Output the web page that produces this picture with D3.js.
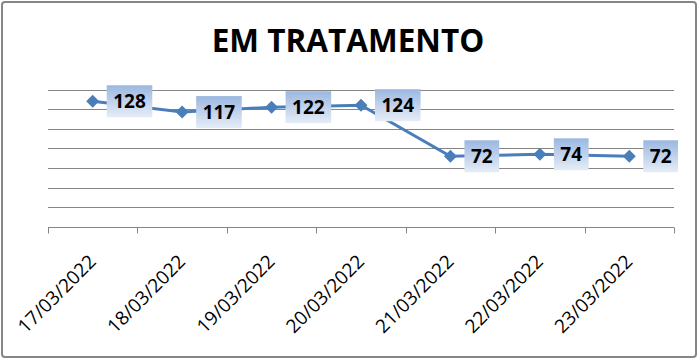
<!DOCTYPE html>
<style>
body { margin: 0; background: white; }
svg { display: block; }
text { font-family: "Open Sans", sans-serif; }
</style>
<svg width="699" height="361"></svg>
<script src="https://d3js.org/d3.v7.min.js"></script>
<script>

var dates = ["17/03/2022", "18/03/2022", "19/03/2022", "20/03/2022", "21/03/2022", "22/03/2022", "23/03/2022"];
var values = [128, 117, 122, 124, 72, 74, 72];
var yTicks = [0, 20, 40, 60, 80, 100, 120, 140];
var title = "EM TRATAMENTO";

var svg = d3.select("svg");

var plotLeft = 48, plotRight = 674, plotTop = 89.5, plotBottom = 227;

var x = d3.scaleBand().domain(dates).range([plotLeft, plotRight]);
var y = d3.scaleLinear().domain([0, 140]).range([plotBottom, plotTop]);

// gradient for labels
var defs = svg.append("defs");
var grad = defs.append("linearGradient").attr("id", "lbl")
  .attr("x1", 0).attr("y1", 0).attr("x2", 0).attr("y2", 1);
grad.append("stop").attr("offset", "0%").attr("stop-color", "#9bb7e0");
grad.append("stop").attr("offset", "100%").attr("stop-color", "#e6edf7");

// outer border
svg.append("rect")
  .attr("x", 2).attr("y", 2).attr("width", 694).attr("height", 355)
  .attr("rx", 3)
  .attr("fill", "white").attr("stroke", "#868686").attr("stroke-width", 2);

svg.append("text")
  .attr("x", 348).attr("y", 52)
  .attr("text-anchor", "middle")
  .style("font-size", "31.5px").style("font-weight", "bold")
  .text(title);

// gridlines
svg.append("g").selectAll("line")
  .data(yTicks.slice(1))
  .enter().append("line")
  .attr("x1", plotLeft).attr("x2", plotRight)
  .attr("y1", function(d) { return Math.round(y(d)) + 0.5; })
  .attr("y2", function(d) { return Math.round(y(d)) + 0.5; })
  .attr("stroke", "#868686").attr("stroke-width", 1);

// x axis
var xAxis = svg.append("g")
  .attr("transform", "translate(0," + (Math.round(plotBottom) + 0.5) + ")");
xAxis.append("line")
  .attr("x1", plotLeft).attr("x2", plotRight)
  .attr("stroke", "#868686");
var edges = dates.map(function(d) { return x(d); }).concat([plotRight]);
xAxis.selectAll("line.tick")
  .data(edges)
  .enter().append("line")
  .attr("class", "tick")
  .attr("x1", function(d) { return Math.round(d) + 0.5; })
  .attr("x2", function(d) { return Math.round(d) + 0.5; })
  .attr("y1", 0).attr("y2", 6)
  .attr("stroke", "#868686");

xAxis.selectAll("text")
  .data(dates)
  .enter().append("text")
  .attr("transform", function(d) {
    return "translate(" + (x(d) + x.bandwidth() / 2 - 5) + ",26) rotate(-45)";
  })
  .attr("text-anchor", "end")
  .attr("dy", "0.7em")
  .style("font-size", "19px")
  .text(function(d) { return d; });

// line
var pts = dates.map(function(d, i) { return [x(d) + x.bandwidth() / 2, y(values[i])]; });

svg.append("path")
  .attr("d", d3.line()(pts))
  .attr("fill", "none")
  .attr("stroke", "#4a7ebb")
  .attr("stroke-width", 3);

svg.append("g").selectAll("path")
  .data(pts)
  .enter().append("path")
  .attr("transform", function(d) { return "translate(" + d[0] + "," + d[1] + ")"; })
  .attr("d", "M0,-6.5L6.5,0L0,6.5L-6.5,0Z")
  .attr("fill", "#4a7ebb");

// data labels
var labels = svg.append("g").selectAll("g")
  .data(pts)
  .enter().append("g")
  .attr("transform", function(d) { return "translate(" + (d[0] + 14) + "," + d[1] + ")"; });

labels.each(function(d, i) {
  var g = d3.select(this);
  var r = g.append("rect").attr("fill", "url(#lbl)");
  var t = g.append("text")
    .attr("dy", "0.36em")
    .style("font-size", "19px").style("font-weight", "bold")
    .text(values[i]);
  var w = t.node().getComputedTextLength();
  r.attr("x", 0).attr("y", -16).attr("width", w + 13).attr("height", 32);
  t.attr("x", 6.5);
});

</script>
